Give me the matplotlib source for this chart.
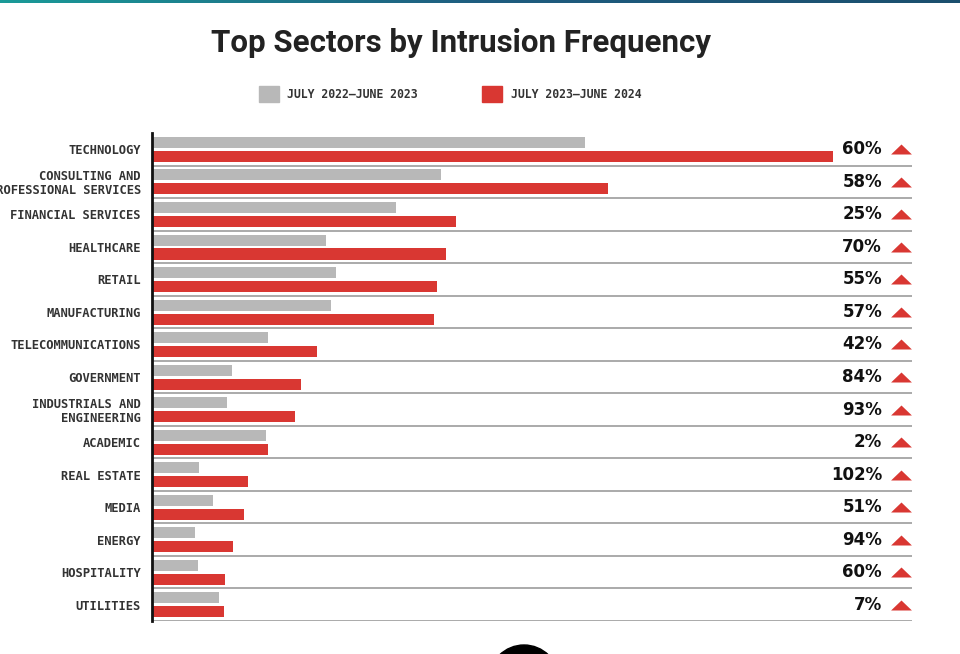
import numpy as np
import matplotlib
matplotlib.use("Agg")
import matplotlib.pyplot as plt
from matplotlib.patches import Patch, Ellipse

# Sector names (top to bottom) and relative intrusion volume
sectors = [
    "TECHNOLOGY", "CONSULTING AND\nPROFESSIONAL SERVICES", "FINANCIAL SERVICES",
    "HEALTHCARE", "RETAIL", "MANUFACTURING", "TELECOMMUNICATIONS", "GOVERNMENT",
    "INDUSTRIALS AND\nENGINEERING", "ACADEMIC", "REAL ESTATE", "MEDIA", "ENERGY",
    "HOSPITALITY", "UTILITIES",
]
prev_year = [433, 289, 244, 174, 184, 179, 116, 80, 75, 114, 47, 61, 43, 46, 67]
curr_year = [681, 456, 304, 294, 285, 282, 165, 149, 143, 116, 96, 92, 81, 73, 72]
growth = ["60%", "58%", "25%", "70%", "55%", "57%", "42%", "84%", "93%", "2%",
          "102%", "51%", "94%", "60%", "7%"]
series_names = ["JULY 2022\u2013JUNE 2023", "JULY 2023\u2013JUNE 2024"]

GRAY = "#b8b8b8"
RED = "#d93732"
MONO = "DejaVu Sans Mono"

fig = plt.figure(figsize=(9.6, 6.54), dpi=100)
ax = fig.add_axes([152 / 960, 33 / 654, 760 / 960, 488 / 654])

rows = np.arange(len(sectors))
ax.barh(rows + 0.29, prev_year, height=0.34, color=GRAY)
ax.barh(rows + 0.72, curr_year, height=0.34, color=RED)

# row separators
for r in rows:
    ax.axhline(r + 1, color="#9c9c9c", lw=1.2, zorder=0)

ax.set_xlim(0, 760)
ax.set_ylim(len(sectors), 0)
ax.set_xticks([])
ax.set_yticks(rows + 0.5)
ax.set_yticklabels(sectors, fontfamily=MONO, fontweight="bold", fontsize=8.7,
                   color="#333333", linespacing=1.1)
ax.tick_params(axis="y", length=0, pad=8)
for s in ["top", "right", "bottom"]:
    ax.spines[s].set_visible(False)
ax.spines["left"].set_linewidth(2)
ax.spines["left"].set_color("#111111")

# growth labels with red up-triangles
tri = [(-1, -0.48), (1, -0.48), (0, 0.48)]
for r, g in zip(rows, growth):
    ax.text(730, r + 0.5, g, ha="right", va="center", fontsize=12,
            fontweight="bold", color="#111111", clip_on=False)
    ax.plot(749, r + 0.5, marker=tri, markersize=15, color=RED,
            markeredgewidth=0, clip_on=False)

# title
fig.text(461 / 960, 1 - 43 / 654, "Top Sectors by Intrusion Frequency",
         ha="center", va="center", fontsize=22.5, fontweight="bold",
         family="Roboto", color="#222222")

# legend
handles = [Patch(color=GRAY), Patch(color=RED)]
leg = fig.legend(handles, series_names, loc="center", ncol=2, frameon=False,
                 bbox_to_anchor=(450 / 960, 1 - 94 / 654),
                 prop={"family": MONO, "weight": "bold", "size": 8.3},
                 handlelength=1.75, handleheight=1.75, handletextpad=0.7,
                 columnspacing=5.6)
for t in leg.get_texts():
    t.set_color("#333333")

# teal gradient strip at top of page
top = fig.add_axes([0, 1 - 3 / 654, 1, 3 / 654])
grad = np.linspace(0, 1, 256)[None, :]
cmap = matplotlib.colors.LinearSegmentedColormap.from_list("g", ["#1a9a98", "#1f5d80", "#1b4f6e"])
top.imshow(grad, aspect="auto", cmap=cmap)
top.axis("off")

# piece of the next page element peeking in at the bottom
fig.patches.append(Ellipse((524 / 960, 1 - 680 / 654), 70 / 960, 70 / 654,
                           transform=fig.transFigure, color="black"))

fig.savefig("out.png", dpi=100)
